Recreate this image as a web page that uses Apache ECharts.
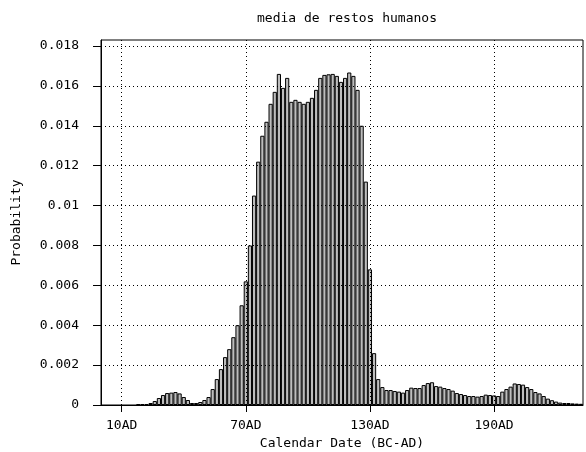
<!DOCTYPE html>
<html>
<head>
    <meta charset="utf-8">
    <title>media de restos humanos</title>
    <script src="https://cdn.jsdelivr.net/npm/echarts@6/dist/echarts.min.js"></script>
</head>
<body style="margin:0">
<div id="main" style="width: 586px;height:452px;"></div>
<script type="text/javascript">
    // 2-year bins, calendar year of bin centre
    var years = [18, 20, 22, 24, 26, 28, 30, 32, 34, 36, 38, 40, 42, 44, 46, 48, 50,
        52, 54, 56, 58, 60, 62, 64, 66, 68, 70, 72, 74, 76, 78, 80, 82, 84, 86, 88,
        90, 92, 94, 96, 98, 100, 102, 104, 106, 108, 110, 112, 114, 116, 118, 120,
        122, 124, 126, 128, 130, 132, 134, 136, 138, 140, 142, 144, 146, 148, 150,
        152, 154, 156, 158, 160, 162, 164, 166, 168, 170, 172, 174, 176, 178, 180,
        182, 184, 186, 188, 190, 192, 194, 196, 198, 200, 202, 204, 206, 208, 210,
        212, 214, 216, 218, 220, 222, 224, 226, 228, 230, 232];
    var probability = [0.00005, 0.00005, 0.00005, 0.0001, 0.0002, 0.00035, 0.0005, 0.0006,
        0.00062, 0.00065, 0.00058, 0.0004, 0.00025, 0.0001, 0.0001, 0.00015, 0.00025,
        0.0004, 0.0008, 0.0013, 0.0018, 0.0024, 0.0028, 0.0034, 0.0040, 0.0050, 0.0062,
        0.0080, 0.0105, 0.0122, 0.0135, 0.0142, 0.0151, 0.0157, 0.0166, 0.0159,
        0.0164, 0.0152, 0.0153, 0.0152, 0.0151, 0.0152, 0.0154, 0.0158, 0.0164, 0.01655,
        0.01658, 0.0166, 0.0165, 0.0162, 0.0164, 0.01667,
        0.0165, 0.0158, 0.0140, 0.0112, 0.0068, 0.0026, 0.0013, 0.0009, 0.00075, 0.00075,
        0.0007, 0.00067, 0.00062, 0.00075, 0.00087,
        0.00085, 0.00085, 0.001, 0.0011, 0.00114, 0.00095, 0.00092, 0.00085, 0.0008,
        0.00072, 0.0006, 0.00055, 0.0005, 0.00045, 0.00045,
        0.00042, 0.00045, 0.00052, 0.0005, 0.00048, 0.00045, 0.00067, 0.0008, 0.00092,
        0.00108, 0.00105, 0.00102, 0.0009, 0.0008, 0.00065,
        0.00058, 0.00045, 0.00032, 0.00024, 0.00017, 0.00012, 0.0001, 0.0001, 0.00008,
        0.00007, 0.00006];
    var xTicks = [10, 70, 130, 190];
    var yTicks = [0, 0.002, 0.004, 0.006, 0.008, 0.01, 0.012, 0.014, 0.016, 0.018];

    var font = 'DejaVu Sans Mono';
    var myChart = echarts.init(document.getElementById('main'));

    var barData = [];
    for (var i = 0; i < years.length; i++) {
        barData.push([years[i], probability[i]]);
    }

    var option = {
        animation: false,
        backgroundColor: '#fff',
        title: {
            text: 'media de restos humanos',
            left: 342,
            textAlign: 'center',
            top: 7,
            textStyle: {fontFamily: font, fontSize: 13, fontWeight: 'normal', color: '#000'}
        },
        grid: {
            left: 101, right: 3, top: 40, bottom: 47,
            outerBoundsMode: 'none',
            show: true, borderColor: '#000', borderWidth: 1
        },
        xAxis: {
            type: 'value',
            min: 0,
            max: 233,
            name: 'Calendar Date (BC-AD)',
            nameLocation: 'middle',
            nameGap: 32,
            nameTextStyle: {fontFamily: font, fontSize: 13, color: '#000'},
            axisLine: {lineStyle: {color: '#000'}},
            axisTick: {customValues: xTicks, length: 7, lineStyle: {color: '#000'}},
            axisLabel: {
                customValues: xTicks, margin: 14,
                fontFamily: font, fontSize: 13, color: '#000',
                formatter: function (v) { return v + 'AD'; }
            },
            splitLine: {show: false}
        },
        yAxis: {
            type: 'value',
            min: 0,
            max: 0.0183,
            interval: 0.002,
            z: 3,
            name: 'Probability',
            nameLocation: 'middle',
            nameGap: 78,
            nameTextStyle: {fontFamily: font, fontSize: 13, color: '#000'},
            axisLine: {show: true, lineStyle: {color: '#000'}},
            axisTick: {show: true, customValues: yTicks, length: 8, lineStyle: {color: '#000'}},
            axisLabel: {
                customValues: yTicks, margin: 22,
                fontFamily: font, fontSize: 13, color: '#000'
            },
            splitLine: {show: true, lineStyle: {color: '#000', type: [1, 3], width: 1}}
        },
        series: [{
            type: 'bar',
            data: barData,
            barWidth: 4.2,
            itemStyle: {color: '#bdbdbd', borderColor: '#000', borderWidth: 1},
            markLine: {
                silent: true,
                symbol: 'none',
                label: {show: false},
                lineStyle: {color: '#000', type: [1, 3], width: 1},
                data: xTicks.map(function (v) { return {xAxis: v}; })
            }
        }]
    };

    myChart.setOption(option);
</script>
</body>
</html>
